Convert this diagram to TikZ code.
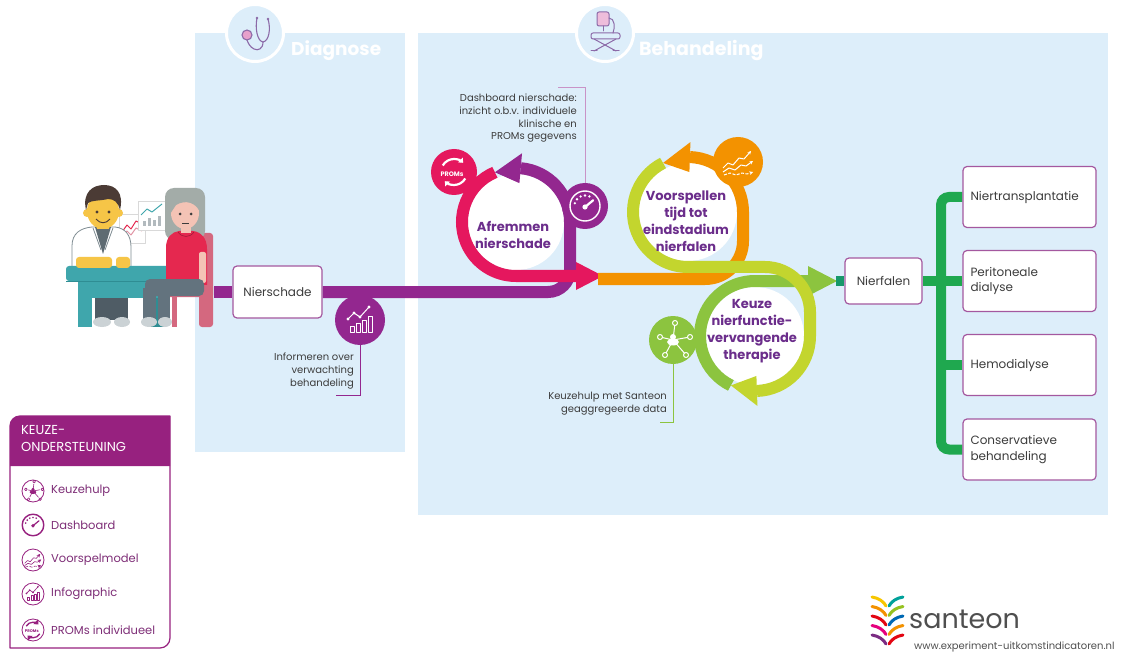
\documentclass[tikz,border=0pt]{standalone}
\usepackage{fontspec}
\setmainfont{Poppins}
\usetikzlibrary{calc,arrows.meta}
\pgfdeclarelayer{back}
\pgfsetlayers{back,main}

\definecolor{panelblue}{HTML}{DDEEFA}
\definecolor{flowpurple}{HTML}{93278F}
\definecolor{flowmagenta}{HTML}{E5175E}
\definecolor{floworange}{HTML}{F39200}
\definecolor{flowlime}{HTML}{C3D52E}
\definecolor{flowgreen}{HTML}{8CC43F}
\definecolor{treegreen}{HTML}{1FA84F}
\definecolor{linkgreen}{HTML}{17986A}
\definecolor{stagepurple}{HTML}{6B2D8B}
\definecolor{boxpurple}{HTML}{A4589F}
\definecolor{legpurple}{HTML}{97217F}
\definecolor{legtextpurple}{HTML}{7E2E77}
\definecolor{notegray}{HTML}{3C3C3C}
\definecolor{stethpurple}{HTML}{8C6AA8}
\definecolor{stethpink}{HTML}{E7A1CB}
% illustration colours
\definecolor{skin}{HTML}{F6C547}
\definecolor{hairbrown}{HTML}{4B3B35}
\definecolor{coatline}{HTML}{7F8C92}
\definecolor{shirtgray}{HTML}{5E6B72}
\definecolor{deskteal}{HTML}{3FA6AC}
\definecolor{deskdark}{HTML}{2F8D93}
\definecolor{shoegray}{HTML}{CBD2D5}
\definecolor{pantsgray}{HTML}{63737E}
\definecolor{hairgray}{HTML}{A3ACA8}
\definecolor{faceskin}{HTML}{F4C3B5}
\definecolor{shirtred}{HTML}{E5284F}
\definecolor{chairpink}{HTML}{D4687F}
\definecolor{santeongray}{HTML}{4F4F4F}

\tikzset{
  flow/.style={line width=12pt, line cap=butt},
  stage/.style={font=\fontsize{13}{17}\selectfont\bfseries, text=stagepurple, align=center, inner sep=0},
  boxnode/.style={draw=boxpurple, line width=1.2pt, fill=white, rounded corners=4pt,
    font=\fontsize{12}{15.5}\selectfont, text=notegray},
  choice/.style={boxnode, minimum width=133pt, minimum height=61pt, text width=118pt, align=left},
  note/.style={font=\fontsize{10}{12.6}\selectfont, text=notegray, align=right, inner sep=0},
  leader/.style={line width=0.8pt},
  tree/.style={draw=treegreen, line width=10pt},
  iconcirc/.style={circle, inner sep=0},
  legtext/.style={font=\fontsize{11.5}{13}\selectfont, text=legtextpurple, anchor=west, inner sep=0},
  legicon/.style={draw=legpurple, line width=0.8pt},
  iconline/.style={line width=1pt},
  iconthick/.style={line width=2.2pt},
  % icon drawings, coloured by the option they are placed with
  pics/gauge/.style={code={
    \draw[iconline, line width=1.4pt] (0,0) circle[radius=15];
    \foreach \a in {-165,-140,-115,-90,-65} \fill (\a:10.5) circle[radius=1.3];
    \draw[iconthick, line cap=round] (0,1) -- (-35:10);
    \fill (0,1) circle[radius=2.6];
  }},
  pics/bars/.style={code={
    \foreach \x/\h in {-10/6,-4/9,2/12,8/16} \draw[iconline] (\x,12) rectangle ++(4,-\h);
    \draw[iconline] (-12,-1) -- (-6,-7) -- (0,-3) -- (9,-13);
    \foreach \p in {(-12,-1),(-6,-7),(0,-3),(9,-13)} \fill \p circle[radius=1.7];
  }},
  pics/forecast/.style={code={
    \draw[iconline, -{Stealth[length=3.5pt,width=3.5pt]}] (-15,6) -- (-10,1) -- (-5,3) -- (1,-4) -- (6,-3) -- (13,-11);
    \draw[iconline, -{Stealth[length=3.5pt,width=3.5pt]}] (-15,10) -- (-9,6) -- (-3,8) -- (3,3) -- (8,4) -- (15,-1);
    \draw[iconline, dash pattern=on 3pt off 1.5pt, -{Stealth[length=3.5pt,width=3.5pt]}] (-14,13) -- (-8,11) -- (-2,13) -- (4,11) -- (9,12) -- (15,10);
  }},
  pics/network/.style={code={
    \foreach \p in {(2,-17),(-13,-3),(17,-3),(-8,15),(13,15)} {
      \draw[iconline, shorten >=2.5pt] (0,0) -- \p;
      \draw[iconline] \p circle[radius=2.5];
    }
    \fill (0,-3) circle[radius=3];
    \fill (0,2) ellipse[x radius=6, y radius=3.5];
  }},
  pics/promsarrows/.style={code={
    \node[font=\fontsize{6.5}{7}\selectfont\bfseries, inner sep=0] at (-2,2) {PROMs};
    \draw[iconthick, -{Triangle[length=4pt,width=6.5pt]}] (-150:13) arc[start angle=-150, end angle=-45, radius=13];
    \draw[iconthick, -{Triangle[length=4pt,width=6.5pt]}] (30:13) arc[start angle=30, end angle=135, radius=13];
  }},
}

\begin{document}
\begin{tikzpicture}[x=1pt, y=-1pt, line join=round]

\useasboundingbox (0,0) rectangle (1121,652);

% ---------- key positions ----------
\coordinate (cA) at (516,222);   % Afremmen ring
\coordinate (cV) at (688,212);   % Voorspellen ring
\coordinate (cK) at (755,336);   % Keuze ring
\coordinate (lineStart) at (214,292);
\coordinate (trunk) at (941,320);

% ---------- panel headers ----------
\node[circle, fill=panelblue, draw=white, line width=3pt, minimum size=57pt, inner sep=0] (diagIcon) at (255,33) {};
\begin{scope}[shift={(255,33)}, stethpurple, line width=1.1pt, line cap=round]
  \draw (2,-15) .. controls (0,-5) and (2,8) .. (8,9) .. controls (14,8) and (16,-4) .. (13,-14);
  \draw (8,9) .. controls (8,16) and (3,18) .. (-1,16) .. controls (-5,14) and (-7,10) .. (-8,7);
  \filldraw[fill=stethpink] (-8,2) circle[radius=5];
  \fill (2,-15) circle[radius=1.4];
  \fill (13,-14) circle[radius=1.4];
\end{scope}
\node[font=\fontsize{18.5}{20}\selectfont\bfseries, text=white, anchor=west, inner sep=0] (diagTitle) at (291,51) {Diagnose};

\node[circle, fill=panelblue, draw=white, line width=3pt, minimum size=57pt, inner sep=0] (behIcon) at (605,33) {};
\begin{scope}[shift={(605,33)}, stethpurple, line width=1pt, line cap=round]
  \filldraw[fill=stethpink!70, rounded corners=2pt] (-8,-21) rectangle (4,-7);
  \draw (-2,-7) -- (-2,-2);
  \draw (4,-15) .. controls (10,-15) and (10,-5) .. (8,0);
  \draw[rounded corners=2pt] (-14,0) rectangle (15,6);
  \draw (-11,6) -- (11,18);
  \draw (11,6) -- (-11,18);
  \draw (-14,18) -- (-8,18);
  \draw (8,18) -- (14,18);
\end{scope}
\node[font=\fontsize{19}{20}\selectfont\bfseries, text=white, anchor=west, inner sep=0] (behTitle) at (639,51) {Behandeling};

% ---------- boxes ----------
\node[boxnode, minimum width=89pt, minimum height=52pt] (nierschade) at (277.5,292) {Nierschade};
\node[boxnode, minimum width=77pt, minimum height=46pt] (nierfalen) at (883.5,281) {Nierfalen};
\node[choice] (b1) at (1029.5,197) {Niertransplantatie};
\node[choice] (b2) at (1029.5,281) {Peritoneale\\dialyse};
\node[choice] (b3) at (1029.5,365) {Hemodialyse};
\node[choice] (b4) at (1029.5,449.5) {Conservatieve\\behandeling};

% ---------- stage texts ----------
\node[stage] (afremmen) at (513,235) {Afremmen\\nierschade};
\node[stage] (voorspellen) at (686,221) {Voorspellen\\tijd tot\\eindstadium\\nierfalen};
\node[stage] (keuze) at (752,331) {Keuze\\nierfunctie-\\vervangende\\therapie};

% ---------- tool icons ----------
\node[iconcirc, fill=flowpurple, minimum size=50pt] (info) at (360,320) {};
\pic[white] at (info) {bars};
\node[iconcirc, fill=flowpurple, minimum size=46pt] (dash) at (585,206) {};
\pic[white] at (dash) {gauge};
\node[iconcirc, fill=flowmagenta, minimum size=46pt] (proms) at (454,172) {};
\pic[white] at (proms) {promsarrows};
\node[iconcirc, fill=floworange, minimum size=50pt] (forecastIcon) at (738,162) {};
\pic[white] at (forecastIcon) {forecast};
\node[iconcirc, fill=flowgreen, minimum size=48pt] (khIcon) at (673,340) {};
\pic[white] at (khIcon) {network};

% ---------- notes ----------
\node[note, anchor=north east] (dashNote) at (577,94) {Dashboard nierschade:\\inzicht o.b.v. individuele\\klinische en\\PROMs gegevens};
\node[note, anchor=north east] (infoNote) at (354,353) {Informeren over\\verwachting\\behandeling};
\node[note, anchor=north east] (khNote) at (667,392) {Keuzehulp met Santeon\\geaggregeerde data};
\coordinate (dashLeadEnd) at (558,87);
\coordinate (infoLeadEnd) at (336,395);
\coordinate (khLeadEnd) at (660,422);

% ---------- background, panels and flow paths ----------
\begin{pgfonlayer}{back}
  \fill[white] (0,0) rectangle (1121,652);
  \fill[panelblue] (195,33) rectangle (405,452);
  \fill[panelblue] (418,33) rectangle (1108,515);
  \fill[white] (cA) circle[radius=48];
  \fill[white] (cV) circle[radius=49];
  \fill[white] (cK) circle[radius=49];

  % purple: diagnosis line up into the first loop
  \draw[flow, flowpurple] (lineStart) -- (nierschade.west);
  \draw[flow, flowpurple] (nierschade.east) -- (548,292) arc[start angle=90, end angle=0, radius=22]
     -- (570,222) arc[start angle=0, end angle=-85, radius=54];
  \fill[flowpurple] ($(cA)+(-85:69)$) -- ($(cA)+(-113:54)$) -- ($(cA)+(-85:39)$) -- cycle;
  % magenta: rest of the first loop
  \draw[flow, flowmagenta] ($(cA)+(-113:54)$) arc[start angle=-113, end angle=-270, radius=54] -- (578,276);
  \fill[flowmagenta] (576,262) -- (603,276) -- (576,290) -- cycle;
  % orange: into the second loop
  \draw[flow, floworange] (598,279) -- (705,279) arc[start angle=90, end angle=0, radius=38]
     -- (743,212) arc[start angle=0, end angle=-88, radius=55];
  \fill[floworange] ($(cV)+(-88:70)$) -- ($(cV)+(-117:55)$) -- ($(cV)+(-88:40)$) -- cycle;
  % green: out of the third loop towards Nierfalen
  \draw[flow, flowgreen] ($(cK)+(116:55)$) arc[start angle=116, end angle=270, radius=55] -- (810,281);
  \fill[flowgreen] (808,266) -- (837,281) -- (808,296) -- cycle;
  \draw[line width=10pt, linkgreen] (836,281) -- (nierfalen.west);
  % lime: second loop into the third loop
  \draw[flow, flowlime] ($(cV)+(-117:55)$) arc[start angle=-117, end angle=-270, radius=55]
     -- (765,267) arc[start angle=-90, end angle=0, radius=45]
     -- (810,336) arc[start angle=0, end angle=88, radius=55];
  \fill[flowlime] ($(cK)+(88:70)$) -- ($(cK)+(116:55)$) -- ($(cK)+(88:40)$) -- cycle;

  % treatment options tree
  \draw[tree] (nierfalen.east) -- (b2.west);
  \draw[tree, rounded corners=8pt] (b1.west) -| (trunk) |- (b4.west);
  \draw[tree] (b3.west) -- (b3.west -| trunk);

  % leader lines
  \draw[leader, draw=flowpurple!50] (dashLeadEnd) -- (dashLeadEnd -| dash) -- (dash.north);
  \draw[leader, draw=flowpurple] (info.south) -- (info |- infoLeadEnd) -- (infoLeadEnd);
  \draw[leader, draw=flowgreen] (khIcon.south) -- (khIcon |- khLeadEnd) -- (khLeadEnd);
\end{pgfonlayer}

% ---------- doctor and patient ----------
% charts
\filldraw[draw=black!15, fill=white] (119,214) rectangle (145,243);
\draw[shirtred, line width=1pt] (122,232) -- (127,225) -- (131,229) -- (136,221) -- (142,224);
\draw[chairpink!70, line width=1pt] (122,237) -- (127,231) -- (131,235) -- (136,228) -- (142,231);
\filldraw[draw=black!15, fill=white] (138,201) rectangle (166,230);
\foreach \x/\h in {143/5,148/8,153/6,158/10} \fill[coatline!60] (\x,226) rectangle ++(3,-\h);
\draw[deskteal, line width=1pt] (141,215) -- (147,209) -- (152,212) -- (162,204);
% doctor
\fill[pantsgray!80!black] (95,296) rectangle (128,320);
\fill[shoegray] (102,322) ellipse[x radius=9, y radius=5];
\fill[shoegray] (122,322) ellipse[x radius=8, y radius=5];
\filldraw[fill=white, draw=coatline, line width=0.8pt] (72,272) -- (72,246) .. controls (72,233) and (81,228) .. (92,227)
   -- (115,227) .. controls (125,228) and (131,235) .. (131,247) -- (131,272) -- cycle;
\fill[shirtgray] (95,227) -- (103,254) -- (111,227) -- cycle;
\draw[coatline, line width=0.8pt] (93,228) -- (101,250);
\draw[coatline, line width=0.8pt] (113,228) -- (105,250);
\fill[skin] (97,222) rectangle (109,229);
\fill[skin] (87,213) circle[radius=4];
\fill[skin] (119,213) circle[radius=4];
\fill[skin] (103,211) ellipse[x radius=16, y radius=18];
\fill[hairbrown] (86,210) .. controls (82,192) and (93,185) .. (104,185) .. controls (116,185) and (124,193) .. (120,210)
   .. controls (118,202) and (114,199) .. (108,199) .. controls (100,201) and (92,200) .. (88,203) -- cycle;
\fill[hairbrown] (97,212) circle[radius=1.7];
\fill[hairbrown] (109,212) circle[radius=1.7];
\draw[hairbrown, line width=0.9pt] (96,219) .. controls (100,224) and (106,224) .. (110,219);
% desk
\fill[deskteal] (78,281) rectangle (92,327);
\fill[deskteal] (78,281) rectangle (166,298);
\fill[deskdark] (150,298) rectangle (164,327);
\fill[deskteal, rounded corners=3pt] (66,266) rectangle (172,281);
\draw[deskdark, line width=0.8pt] (66,281) -- (172,281);
\fill[skin, rounded corners=3pt] (76,257) rectangle (112,268);
\fill[skin, rounded corners=3pt] (116,257) rectangle (130,268);
% patient
\fill[chairpink, rounded corners=3pt] (199,233) rectangle (213,327);
\fill[hairgray, rounded corners=9pt] (165,188) rectangle (205,240);
\fill[shirtred] (166,285) -- (166,248) .. controls (166,237) and (172,232) .. (179,231) -- (193,231)
   .. controls (201,232) and (207,238) .. (207,249) -- (207,285) -- cycle;
\fill[faceskin] (181,224) rectangle (191,233);
\draw[shirtred!70!black, line width=0.6pt] (178,232) .. controls (182,238) and (190,238) .. (194,232);
\fill[faceskin] (185,213) ellipse[x radius=14, y radius=16];
\fill[hairgray] (170,214) .. controls (168,197) and (178,191) .. (186,191) .. controls (196,191) and (202,198) .. (200,212)
   .. controls (196,203) and (186,199) .. (176,205) -- cycle;
\fill[notegray] (180,214) circle[radius=1.5];
\fill[notegray] (191,214) circle[radius=1.5];
\draw[notegray, line width=0.7pt] (182,223) -- (189,223);
\fill[faceskin, rounded corners=2pt] (199,252) rectangle (206,283);
\fill[chairpink, rounded corners=2pt] (168,285) rectangle (213,297);
\fill[chairpink] (172,297) rectangle (177,327);
\fill[pantsgray, rounded corners=5pt] (145,279) rectangle (204,296);
\fill[pantsgray] (143,288) rectangle (156,320);
\fill[pantsgray] (158,288) rectangle (170,320);
\fill[shoegray] (149,322) ellipse[x radius=8, y radius=5];
\fill[shoegray] (165,322) ellipse[x radius=7, y radius=5];

% ---------- legend ----------
\filldraw[fill=white, draw=legpurple, line width=1.2pt] (10,648) -- (10,426) arc[start angle=180, end angle=270, radius=10]
   -- (170,416) -- (170,638) arc[start angle=0, end angle=90, radius=10] -- cycle;
\fill[legpurple] (10,466) -- (10,426) arc[start angle=180, end angle=270, radius=10] -- (170,416) -- (170,466) -- cycle;
\node[font=\fontsize{13}{17.5}\selectfont, text=white, align=left, anchor=north west, inner sep=0] (legTitle) at (21,425) {KEUZE-\\ONDERSTEUNING};

\draw[legicon] (33,491) circle[radius=11];
\pic[legpurple, scale=0.55, iconline/.style={line width=0.6pt}] at (33,491) {network};
\node[legtext] (legKeuzehulp) at (51,491) {Keuzehulp};
\pic[legpurple, scale=0.72, iconline/.style={line width=0.8pt}, iconthick/.style={line width=1.2pt}] at (33,525) {gauge};
\node[legtext] (legDashboard) at (51,525) {Dashboard};
\draw[legicon] (33,560) circle[radius=11];
\pic[legpurple, scale=0.55, iconline/.style={line width=0.6pt}] at (33,560) {forecast};
\node[legtext] (legVoorspel) at (51,560) {Voorspelmodel};
\draw[legicon] (33,594) circle[radius=11];
\pic[legpurple, scale=0.55, iconline/.style={line width=0.6pt}] at (33,594) {bars};
\node[legtext] (legInfo) at (51,594) {Infographic};
\draw[legicon] (33,630) circle[radius=11];
\pic[legpurple, scale=0.6, transform shape, iconthick/.style={line width=1.3pt}] at (33,630) {promsarrows};
\node[legtext] (legProms) at (51,630) {PROMs individueel};

% ---------- santeon logo ----------
\begin{scope}[line width=3pt, line cap=round]
  \foreach \i/\cl/\cr in {0/F7C600/00A19A, 1/F39200/95C11F, 2/E30613/0069B4, 3/E6007E/F39200, 4/7B2C83/E30613} {
    \definecolor{logoL}{HTML}{\cl}
    \definecolor{logoR}{HTML}{\cr}
    \draw[logoL] (872,597+9.5*\i) .. controls (879,598+9.5*\i) and (884,602+9.5*\i) .. (886,606+9.5*\i);
    \draw[logoR] (903,597+9.5*\i) .. controls (896,598+9.5*\i) and (891,602+9.5*\i) .. (889,606+9.5*\i);
  }
\end{scope}
\node[font=\fontsize{27}{30}\selectfont, text=santeongray, anchor=base west, inner sep=0] (santeonText) at (909,628) {santeon};
\node[font=\fontsize{10}{11}\selectfont, text=santeongray, anchor=base west, inner sep=0] (urlText) at (914,649) {www.experiment-uitkomstindicatoren.nl};

\end{tikzpicture}
\end{document}
